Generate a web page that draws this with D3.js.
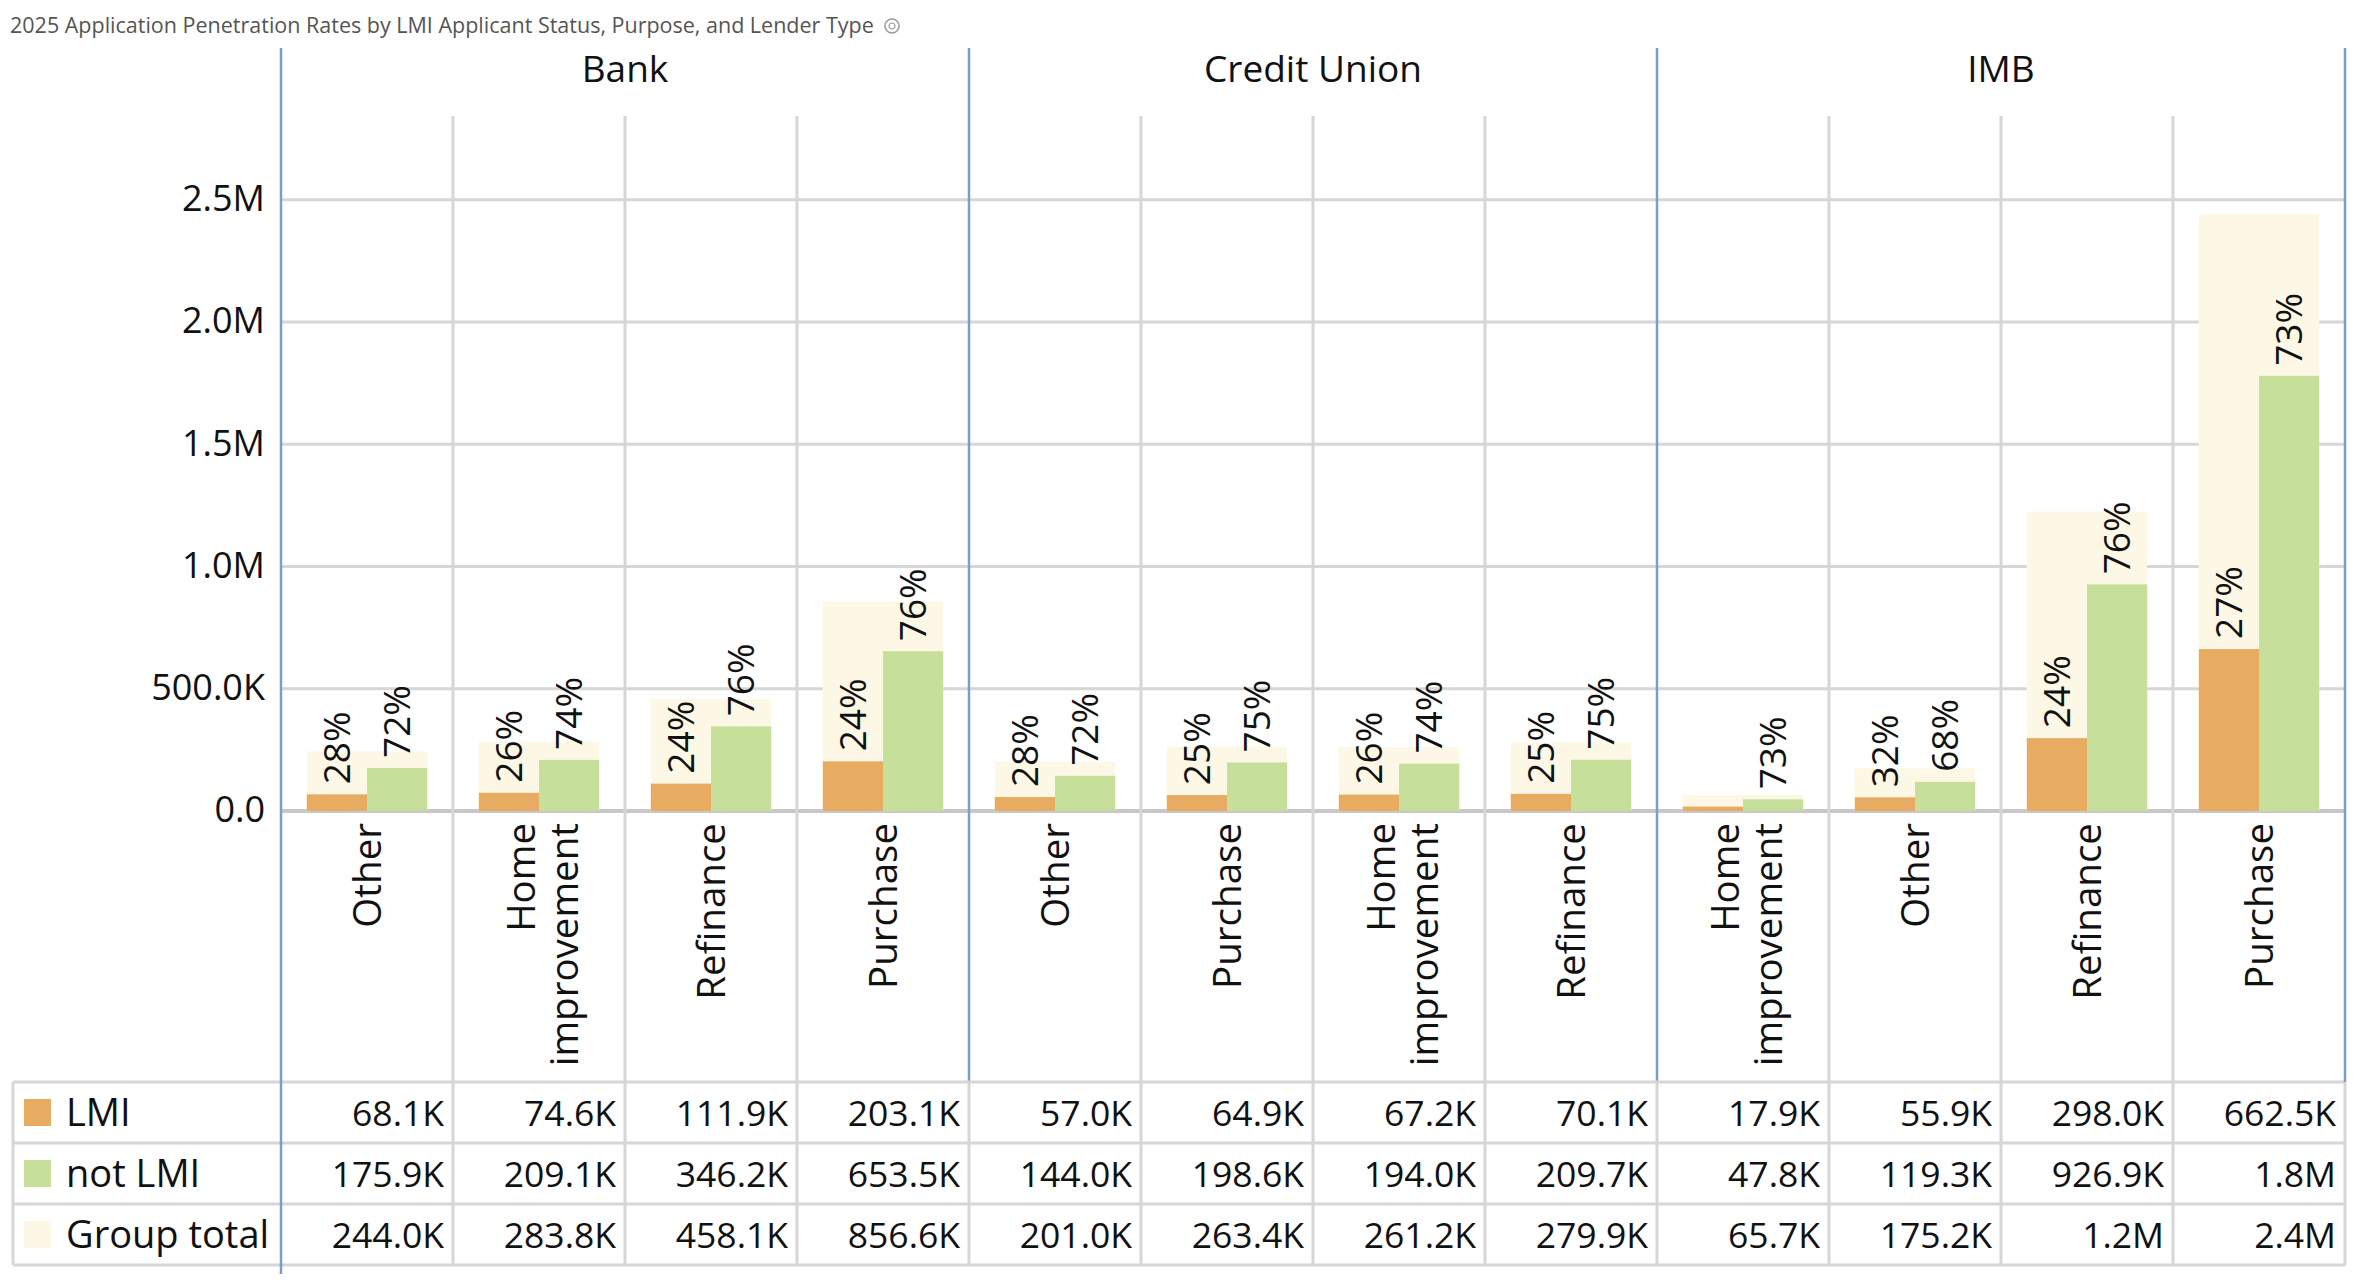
<!DOCTYPE html>
<html>
<head>
<meta charset="utf-8">
<script src="https://cdn.jsdelivr.net/npm/d3@7"></script>
<style>
  body { margin: 0; background: #fff; }
  text { font-family: "Open Sans", "Noto Sans", sans-serif; fill: #111; }
</style>
</head>
<body>
<svg id="chart"></svg>
<script>
// values in thousands, one entry per column (lender x purpose)
const lenders = ["Bank", "Credit Union", "IMB"];
const colLender = ["Bank", "Bank", "Bank", "Bank",
    "Credit Union", "Credit Union", "Credit Union", "Credit Union",
    "IMB", "IMB", "IMB", "IMB"];
const colPurpose = ["Other", "Home improvement", "Refinance", "Purchase",
    "Other", "Purchase", "Home improvement", "Refinance",
    "Home improvement", "Other", "Refinance", "Purchase"];
const lmi = [68.1, 74.6, 111.9, 203.1, 57.0, 64.9, 67.2, 70.1, 17.9, 55.9, 298.0, 662.5];
const notLmi = [175.9, 209.1, 346.2, 653.5, 144.0, 198.6, 194.0, 209.7, 47.8, 119.3, 926.9, 1780.0];
const groupTotal = [244.0, 283.8, 458.1, 856.6, 201.0, 263.4, 261.2, 279.9, 65.7, 175.2, 1224.9, 2442.5];
const lmiPct = [28, 26, 24, 24, 28, 25, 26, 25, null, 32, 24, 27];
const notLmiPct = [72, 74, 76, 76, 72, 75, 74, 75, 73, 68, 76, 73];
const yTicks = [0, 500, 1000, 1500, 2000, 2500];

const colors = { lmi: "#E8AB62", notLmi: "#C6E09C", total: "#FDF8E6" };
const gridColor = "#D6D6D6";
const panelColor = "#7C9CC9";

const width = 2355, height = 1287;
const svg = d3.select("#chart").attr("width", width).attr("height", height);

const plotLeft = 281, plotRight = 2345, plotTop = 116;
const tableTop = 1082, rowH = 61;
const ids = d3.range(colLender.length);

const x = d3.scaleBand().domain(ids).range([plotLeft, plotRight]);
const bw = x.bandwidth();
const xSub = d3.scaleBand().domain(["lmi", "notLmi"]).range([bw * 0.15, bw * 0.85]);
const y = d3.scaleLinear().domain([0, 2500]).range([811, 811 - 5 * 122.25]);

function fmt(v) {
    if (v === 0) return "0.0";
    return v >= 1000 ? (v / 1000).toFixed(1) + "M" : v.toFixed(1) + "K";
}

// title
svg.append("text")
    .attr("x", 10).attr("y", 33)
    .style("font-size", "21.5px").style("fill", "#555")
    .text("2025 Application Penetration Rates by LMI Applicant Status, Purpose, and Lender Type");
const icon = svg.append("g").attr("transform", "translate(892,26)");
icon.append("circle").attr("r", 7).attr("fill", "none").attr("stroke", "#999").attr("stroke-width", 1.5);
icon.append("circle").attr("r", 3).attr("fill", "none").attr("stroke", "#999").attr("stroke-width", 1.2);

// horizontal gridlines
svg.append("g").selectAll("line").data(yTicks).join("line")
    .attr("x1", plotLeft).attr("x2", plotRight)
    .attr("y1", d => y(d)).attr("y2", d => y(d))
    .attr("stroke", d => d === 0 ? "#C8C8C8" : gridColor)
    .attr("stroke-width", d => d === 0 ? 4 : 3);

// vertical gridlines between categories
svg.append("g").selectAll("line").data(ids.filter(i => i % 4 !== 0)).join("line")
    .attr("x1", d => x(d)).attr("x2", d => x(d))
    .attr("y1", plotTop).attr("y2", tableTop + 3 * rowH)
    .attr("stroke", gridColor).attr("stroke-width", 3);

// y axis
const yAxis = svg.append("g")
    .attr("transform", `translate(${plotLeft - 8},0)`)
    .call(d3.axisLeft(y).tickValues(yTicks).tickFormat(fmt).tickSize(0).tickPadding(8));
yAxis.select(".domain").remove();
yAxis.selectAll("text")
    .style("font-family", "'Open Sans', sans-serif")
    .style("font-size", "36px").attr("fill", "#111").attr("dy", "0.3em");

// bars
const cols = svg.append("g").selectAll("g").data(ids).join("g")
    .attr("transform", d => `translate(${x(d)},0)`);

cols.append("rect")
    .attr("x", bw * 0.15).attr("width", bw * 0.70)
    .attr("y", d => y(lmi[d] + notLmi[d]))
    .attr("height", d => y(0) - y(lmi[d] + notLmi[d]))
    .attr("fill", colors.total);

cols.append("rect")
    .attr("x", xSub("lmi")).attr("width", xSub.bandwidth())
    .attr("y", d => y(lmi[d]))
    .attr("height", d => y(0) - y(lmi[d]))
    .attr("fill", colors.lmi);

cols.append("rect")
    .attr("x", xSub("notLmi")).attr("width", xSub.bandwidth())
    .attr("y", d => y(notLmi[d]))
    .attr("height", d => y(0) - y(notLmi[d]))
    .attr("fill", colors.notLmi);

// percentage labels
cols.filter(d => lmiPct[d] !== null).append("text")
    .attr("transform", d => `translate(${xSub("lmi") + xSub.bandwidth() / 2},${y(lmi[d]) - 10}) rotate(-90)`)
    .attr("dy", "0.36em")
    .style("font-size", "37px")
    .text(d => lmiPct[d] + "%");

cols.append("text")
    .attr("transform", d => `translate(${xSub("notLmi") + xSub.bandwidth() / 2},${y(notLmi[d]) - 10}) rotate(-90)`)
    .attr("dy", "0.36em")
    .style("font-size", "37px")
    .text(d => notLmiPct[d] + "%");

// category labels (rotated, wrapped)
const catLabels = cols.append("text")
    .attr("transform", `translate(${bw / 2},823) rotate(-90)`)
    .attr("text-anchor", "end")
    .style("font-size", "38.5px");
catLabels.each(function (d) {
    const words = colPurpose[d] === "Home improvement" ? ["Home", "improvement"] : [colPurpose[d]];
    const base = words.length === 1 ? [14] : [-4, 39];
    d3.select(this).selectAll("tspan").data(words).join("tspan")
        .attr("x", 0).attr("y", (w, i) => base[i])
        .text(w => w);
});

// facet headers and panel lines
const panelW = (plotRight - plotLeft) / lenders.length;
svg.append("g").selectAll("text").data(lenders).join("text")
    .attr("x", (d, i) => plotLeft + panelW * (i + 0.5))
    .attr("y", 82)
    .attr("text-anchor", "middle")
    .style("font-size", "37px")
    .text(d => d);

svg.append("g").selectAll("line").data(lenders.slice(1)).join("line")
    .attr("x1", d => x(colLender.indexOf(d))).attr("x2", d => x(colLender.indexOf(d)))
    .attr("y1", 48).attr("y2", tableTop)
    .attr("stroke", panelColor).attr("stroke-width", 2.5);
svg.append("g").selectAll("line").data(lenders.slice(1)).join("line")
    .attr("x1", d => x(colLender.indexOf(d))).attr("x2", d => x(colLender.indexOf(d)))
    .attr("y1", tableTop).attr("y2", tableTop + 3 * rowH)
    .attr("stroke", gridColor).attr("stroke-width", 3);

// table
const rows = [
    { name: "LMI", color: colors.lmi, vals: lmi },
    { name: "not LMI", color: colors.notLmi, vals: notLmi },
    { name: "Group total", color: colors.total, vals: groupTotal }
];
const table = svg.append("g");
table.selectAll("line.h").data(d3.range(rows.length + 1)).join("line")
    .attr("class", "h")
    .attr("x1", 13).attr("x2", plotRight)
    .attr("y1", i => tableTop + i * rowH).attr("y2", i => tableTop + i * rowH)
    .attr("stroke", gridColor).attr("stroke-width", 3);
table.append("line")
    .attr("x1", 13).attr("x2", 13)
    .attr("y1", tableTop).attr("y2", tableTop + 3 * rowH)
    .attr("stroke", gridColor).attr("stroke-width", 3);
table.append("line")
    .attr("x1", plotRight).attr("x2", plotRight)
    .attr("y1", tableTop).attr("y2", tableTop + 3 * rowH)
    .attr("stroke", gridColor).attr("stroke-width", 3);

const rowG = table.selectAll("g.row").data(rows).join("g")
    .attr("class", "row")
    .attr("transform", (d, i) => `translate(0,${tableTop + i * rowH})`);
rowG.append("rect")
    .attr("x", 24).attr("y", 17).attr("width", 27).attr("height", 27)
    .attr("fill", d => d.color);
rowG.append("text")
    .attr("x", 66).attr("y", 44)
    .style("font-size", "38px")
    .text(d => d.name);
rowG.selectAll("text.v").data(d => ids.map(i => d.vals[i])).join("text")
    .attr("class", "v")
    .attr("x", (v, i) => x(i) + bw - 9).attr("y", 44)
    .attr("text-anchor", "end")
    .style("font-size", "35.5px")
    .text(v => fmt(v));

// left axis line and right border
svg.append("line")
    .attr("x1", plotLeft).attr("x2", plotLeft).attr("y1", 48).attr("y2", 1274)
    .attr("stroke", panelColor).attr("stroke-width", 2.5);
svg.append("line")
    .attr("x1", plotRight).attr("x2", plotRight).attr("y1", 48).attr("y2", tableTop)
    .attr("stroke", panelColor).attr("stroke-width", 2.5);
</script>
</body>
</html>
